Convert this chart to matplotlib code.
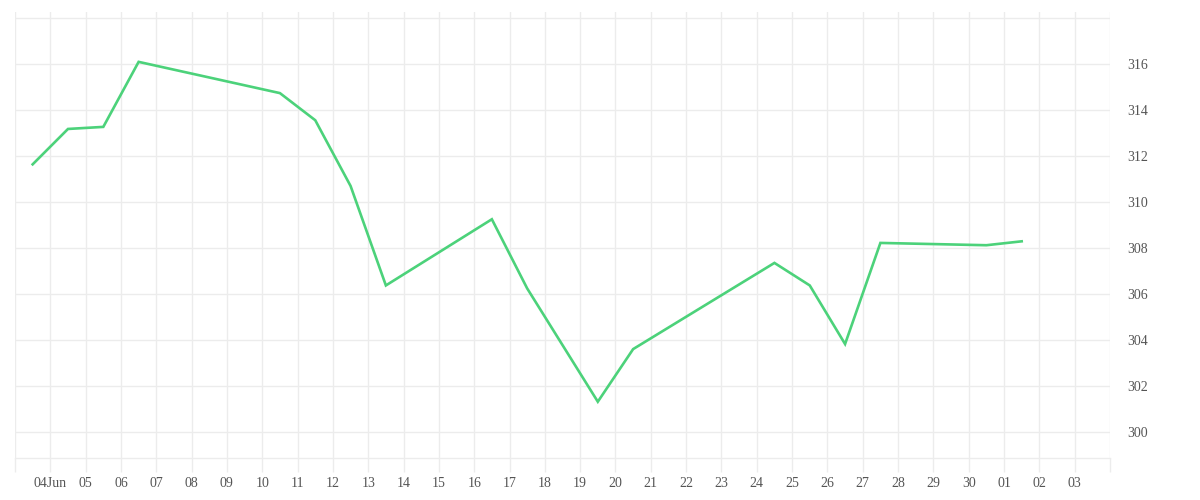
import numpy as np
import pandas as pd
import matplotlib
matplotlib.use("Agg")
import matplotlib.pyplot as plt
import matplotlib.dates as mdates

## Values (one point per trading day, drawn at midday)
Days = ["2023-06-03", "2023-06-04", "2023-06-05", "2023-06-06", "2023-06-10",
        "2023-06-11", "2023-06-12", "2023-06-13", "2023-06-16", "2023-06-17",
        "2023-06-19", "2023-06-20", "2023-06-24", "2023-06-25", "2023-06-26",
        "2023-06-27", "2023-06-30", "2023-07-01"]
Values = [311.64, 313.18, 313.27, 316.10, 314.74,
          313.56, 310.70, 306.37, 309.25, 306.24,
          301.31, 303.60, 307.35, 306.37, 303.82,
          308.22, 308.12, 308.29]

## Axis settings
Tick_Days = pd.date_range("2023-06-03", "2023-07-04", freq="D")
Tick_Labels = ["", "04Jun"] + [d.strftime("%d") for d in Tick_Days[2:-1]] + [""]
Y_Ticks = np.arange(300, 320, 2)
Y_Labels = [str(v) for v in Y_Ticks[:-1]] + [""]

Line_Colour = "#4cd27a"
Grid_Colour = "#ececec"
Text_Colour = "#555555"

plt.rcParams['font.family'] = ['Liberation Serif', 'DejaVu Serif']

fig = plt.figure(figsize=(12, 5), dpi=100)
ax = fig.add_axes([0.0125, 0.084, 0.9125, 0.892])

x = pd.to_datetime(Days) + pd.Timedelta(hours=12)
ax.plot(x, Values, color=Line_Colour, linewidth=1.9, solid_joinstyle="miter", zorder=3)

ax.set_xlim(Tick_Days[0], Tick_Days[-1])
ax.set_ylim(298.86, 318.27)

ax.set_xticks(Tick_Days)
ax.set_xticklabels(Tick_Labels)
ax.set_yticks(Y_Ticks)
ax.set_yticklabels(Y_Labels)

ax.yaxis.tick_right()
ax.tick_params(axis="y", length=0, pad=12.5, labelsize=10, colors=Text_Colour)
ax.tick_params(axis="x", length=10, width=1, color=Grid_Colour, pad=4,
               labelsize=10, labelcolor=Text_Colour)
for lab in ax.get_yticklabels():
    lab.set_verticalalignment("center_baseline")

ax.grid(True, color=Grid_Colour, linewidth=1)
ax.set_axisbelow(True)

for side in ["top", "left", "right"]:
    ax.spines[side].set_visible(False)
ax.spines["bottom"].set_color(Grid_Colour)
ax.spines["bottom"].set_linewidth(1)

fig.savefig("out.png", dpi=100)
